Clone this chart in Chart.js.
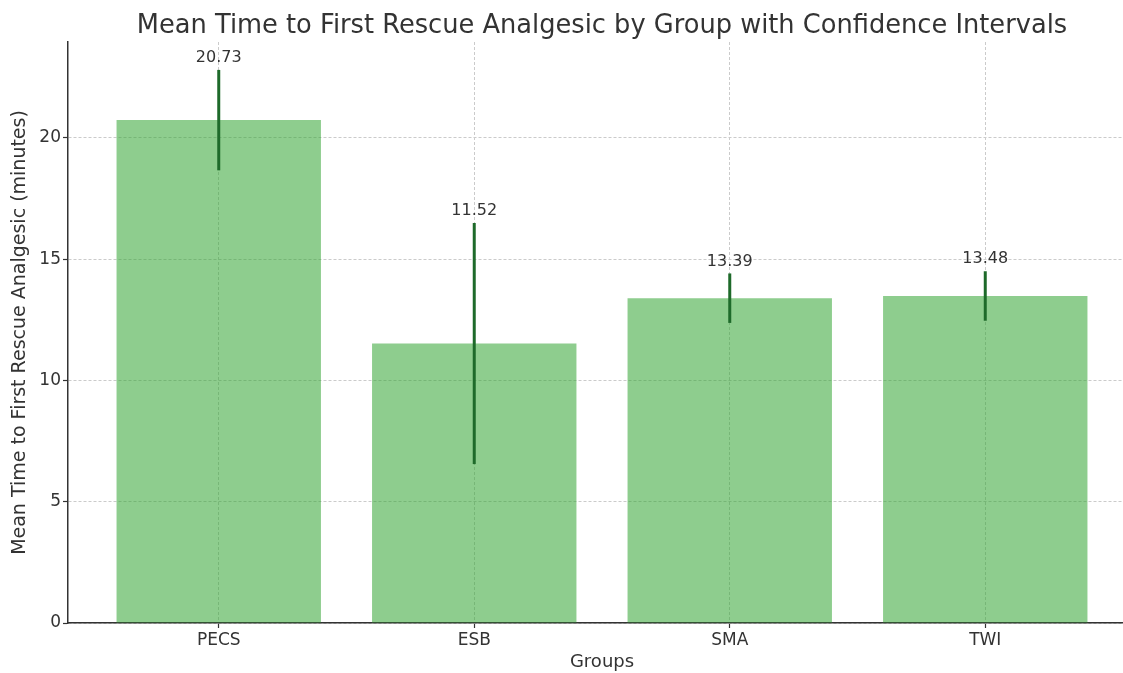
<!DOCTYPE html>
<html>
<head>
<meta charset="utf-8">
<script src="https://cdn.jsdelivr.net/npm/chart.js@4/dist/chart.umd.min.js"></script>
<style>
  html, body { margin: 0; padding: 0; background: #fff; overflow: hidden; }
</style>
</head>
<body>
<canvas id="rescueChart" width="1136" height="673"></canvas>
<script>
// values
const groups = ['PECS', 'ESB', 'SMA', 'TWI'];
const means = [20.73, 11.52, 13.39, 13.48];
const errors = [2.07, 4.97, 1.02, 1.02];
const yTicks = [0, 5, 10, 15, 20];

const chartTitle = 'Mean Time to First Rescue Analgesic by Group with Confidence Intervals';
const textColor = '#333333';
const gridColor = '#cbcbcb';

// error bars + value labels on top
const errorBars = {
  id: 'errorBars',
  afterDatasetsDraw(chart) {
    const { ctx, scales: { x, y } } = chart;
    ctx.save();
    groups.forEach((g, i) => {
      const px = x.getPixelForValue(i);
      const top = y.getPixelForValue(means[i] + errors[i]);
      ctx.strokeStyle = '#1e6a2a';
      ctx.lineWidth = 3;
      ctx.beginPath();
      ctx.moveTo(px, y.getPixelForValue(means[i] - errors[i]));
      ctx.lineTo(px, top);
      ctx.stroke();

      ctx.fillStyle = textColor;
      ctx.font = '16px "DejaVu Sans"';
      ctx.textAlign = 'center';
      ctx.textBaseline = 'bottom';
      ctx.fillText(means[i].toFixed(2), px, top - 4);
    });
    ctx.restore();
  }
};

// title centred over the plot area (like matplotlib), not the canvas
const plotTitle = {
  id: 'plotTitle',
  afterDraw(chart) {
    const { ctx, chartArea } = chart;
    ctx.save();
    ctx.fillStyle = textColor;
    ctx.font = '25.7px "DejaVu Sans"';
    ctx.textAlign = 'center';
    ctx.textBaseline = 'alphabetic';
    ctx.fillText(chartTitle, (chartArea.left + chartArea.right) / 2, 33);
    ctx.restore();
  }
};

const ctx = document.getElementById('rescueChart').getContext('2d');
new Chart(ctx, {
  type: 'bar',
  data: {
    datasets: [{
      data: means.map((m, i) => ({ x: i, y: m })),
      backgroundColor: 'rgba(53, 165, 53, 0.56)',
      borderWidth: 0,
      barPercentage: 0.8,
      categoryPercentage: 1.0
    }]
  },
  options: {
    responsive: false,
    animation: false,
    devicePixelRatio: 1,
    layout: { padding: { top: 42, left: 0, right: 0, bottom: 0 } },
    plugins: {
      legend: { display: false },
      tooltip: { enabled: false },
      title: { display: false }
    },
    scales: {
      x: {
        type: 'linear',
        offset: false,
        min: -0.59,
        max: 3.59,
        afterBuildTicks: (scale) => { scale.ticks = groups.map((g, i) => ({ value: i })); },
        afterFit: (scale) => { scale.height = 50; },
        ticks: {
          color: textColor,
          font: { family: 'DejaVu Sans', size: 17 },
          padding: 2,
          autoSkip: false,
          maxRotation: 0,
          callback: (v) => groups[v]
        },
        grid: {
          offset: false,
          color: gridColor,
          lineWidth: 1,
          tickLength: 5,
          tickColor: textColor,
          tickWidth: 1.2,
          tickBorderDash: []
        },
        border: { display: true, color: textColor, width: 1.5, dash: [3, 2] },
        title: {
          display: true,
          text: 'Groups',
          color: textColor,
          font: { family: 'DejaVu Sans', size: 18 },
          padding: { top: 0, bottom: 0 }
        }
      },
      y: {
        min: 0,
        max: 23.95,
        afterBuildTicks: (scale) => { scale.ticks = yTicks.map(v => ({ value: v })); },
        afterFit: (scale) => { scale.width = 68; },
        ticks: {
          color: textColor,
          font: { family: 'DejaVu Sans', size: 17 },
          padding: 2
        },
        grid: {
          color: gridColor,
          lineWidth: 1,
          tickLength: 5,
          tickColor: textColor,
          tickWidth: 1.2,
          tickBorderDash: []
        },
        border: { display: true, color: textColor, width: 1.5, dash: [3, 2] },
        title: {
          display: true,
          text: 'Mean Time to First Rescue Analgesic (minutes)',
          color: textColor,
          font: { family: 'DejaVu Sans', size: 19 },
          padding: { top: 8.6, bottom: 0 }
        }
      }
    }
  },
  plugins: [errorBars, plotTitle]
});
</script>
</body>
</html>
